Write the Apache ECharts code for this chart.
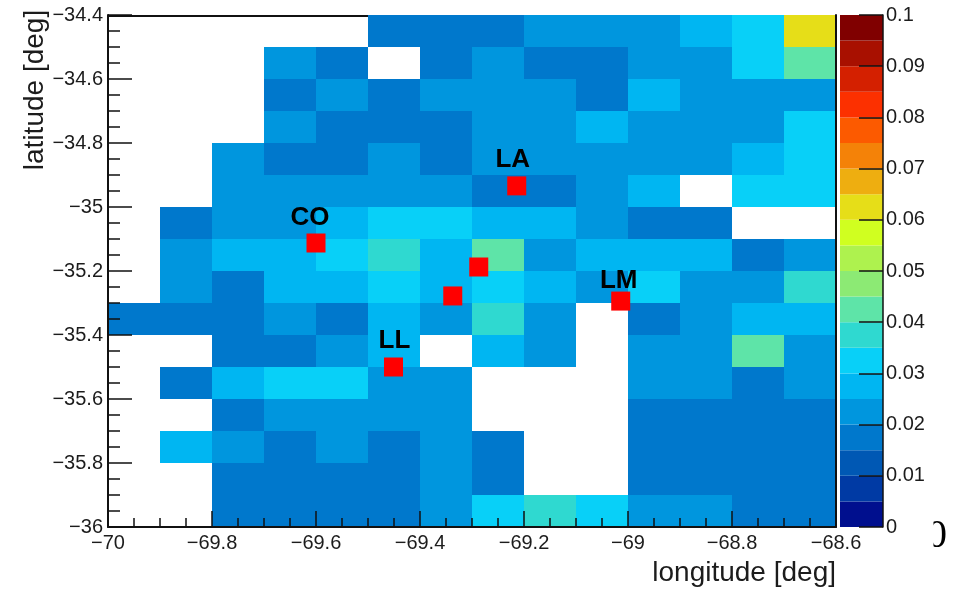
<!DOCTYPE html>
<html>
<head>
<meta charset="utf-8">
<style>html,body{margin:0;padding:0;background:#fff}#c{width:959px;height:590px;filter:blur(0.55px)}</style>
<script src="https://cdn.jsdelivr.net/npm/echarts@6/dist/echarts.min.js"></script>
</head>
<body>
<div id="c"></div>
<script>
// Bin lower-left longitudes (columns) and upper-edge latitudes (rows, top to bottom)
const lonEdges = [-70,-69.9,-69.8,-69.7,-69.6,-69.5,-69.4,-69.3,-69.2,-69.1,-69,-68.9,-68.8,-68.7];
const latEdges = [-34.4,-34.5,-34.6,-34.7,-34.8,-34.9,-35,-35.1,-35.2,-35.3,-35.4,-35.5,-35.6,-35.7,-35.8,-35.9];
const _ = null;
const row00 = [_,_,_,_,_,.0175,.0175,.0175,.0225,.0225,.0225,.0275,.0325,.0625];
const row01 = [_,_,_,.0225,.0175,_,.0175,.0225,.0175,.0175,.0225,.0225,.0325,.0425];
const row02 = [_,_,_,.0175,.0225,.0175,.0225,.0225,.0225,.0175,.0275,.0225,.0225,.0225];
const row03 = [_,_,_,.0225,.0175,.0175,.0175,.0225,.0225,.0275,.0225,.0225,.0225,.0325];
const row04 = [_,_,.0225,.0175,.0175,.0225,.0175,.0225,.0225,.0225,.0225,.0225,.0275,.0325];
const row05 = [_,_,.0225,.0225,.0225,.0225,.0225,.0175,.0175,.0225,.0275,_,.0325,.0325];
const row06 = [_,.0175,.0225,.0225,.0275,.0325,.0325,.0275,.0275,.0225,.0175,.0175,_,_];
const row07 = [_,.0225,.0275,.0275,.0325,.0375,.0275,.0425,.0225,.0275,.0275,.0275,.0175,.0225];
const row08 = [_,.0225,.0175,.0275,.0275,.0325,.0275,.0325,.0275,.0225,.0325,.0225,.0225,.0375];
const row09 = [.0175,.0175,.0175,.0225,.0175,.0275,.0225,.0375,.0225,_,.0175,.0225,.0275,.0275];
const row10 = [_,_,.0175,.0175,.0225,.0275,_,.0275,.0225,_,.0225,.0225,.0425,.0225];
const row11 = [_,.0175,.0275,.0325,.0325,.0225,.0225,_,_,_,.0225,.0225,.0175,.0225];
const row12 = [_,_,.0175,.0225,.0225,.0225,.0225,_,_,_,.0175,.0175,.0175,.0175];
const row13 = [_,.0275,.0225,.0175,.0225,.0175,.0225,.0175,_,_,.0175,.0175,.0175,.0175];
const row14 = [_,_,.0175,.0175,.0175,.0175,.0225,.0175,_,_,.0175,.0175,.0175,.0175];
const row15 = [_,_,.0175,.0175,.0175,.0175,.0225,.0325,.0375,.0325,.0225,.0225,.0175,.0175];
const rows = [row00,row01,row02,row03,row04,row05,row06,row07,row08,row09,row10,row11,row12,row13,row14,row15];

// Stations
const stationNames = ['CO','LA','','','LM','LL'];
const stationLons = [-69.6,-69.214,-69.287,-69.337,-69.014,-69.451];
const stationLats = [-35.1125,-34.934,-35.1875,-35.278,-35.294,-35.5];

// Palette steps of the colour bar
const levelStep = 0.005;
const levelColors = ['#000f8e','#003aa4','#0058b4','#0078cc','#0096de','#00b6f2','#08d0f8','#2fd9d0','#5ee4a8','#8cea74',
  '#aef24e','#d0ff20','#e6de18','#eeae10','#f48208','#fc5a00','#fc3000','#d42000','#a81000','#800000'];

const cellStep = 0.1;
const colorOf = v => levelColors[Math.min(levelColors.length - 1, Math.floor(v / levelStep))];
const cells = [];
rows.forEach((r, j) => r.forEach((v, i) => { if (v !== null) cells.push([lonEdges[i], latEdges[j], v]); }));
const barData = levelColors.map((c, i) => [i * levelStep]);
const minusFmt = v => String(v).replace('-', '\u2212');
const FONT = '"Liberation Sans", Arial, sans-serif';
const INK = '#1c1c1c';

const chart = echarts.init(document.getElementById('c'), null, {renderer: 'canvas'});
chart.setOption({
  animation: false,
  backgroundColor: '#fff',
  textStyle: {fontFamily: FONT},
  grid: [
    {left: 108, top: 15, width: 728, height: 512, outerBoundsMode: 'none', containLabel: false},
    {left: 840, top: 15, width: 43, height: 512, outerBoundsMode: 'none', containLabel: false}
  ],
  xAxis: [
    {type: 'value', gridIndex: 0, min: -70, max: -68.6, interval: 0.2, z: 5,
      name: 'longitude [deg]', nameLocation: 'end', nameGap: 0,
      nameTextStyle: {fontSize: 28, color: INK, align: 'right', verticalAlign: 'top', padding: [32, 0, 0, 0], fontFamily: FONT},
      axisLine: {show: true, onZero: false, lineStyle: {color: '#111', width: 2}},
      axisTick: {inside: true, length: 16, lineStyle: {color: '#111', width: 1.5}},
      minorTick: {show: true, splitNumber: 4, length: 9, lineStyle: {color: '#111', width: 1.5}},
      splitLine: {show: false},
      axisLabel: {formatter: minusFmt, fontSize: 20, color: INK, margin: 6, fontFamily: FONT, showMinLabel: true, showMaxLabel: true, hideOverlap: false}},
    {type: 'value', gridIndex: 0, position: 'top', offset: -1, min: -70, max: -68.6, interval: 0.2, z: 0,
      axisLine: {show: true, onZero: false, lineStyle: {color: '#111', width: 2}},
      axisTick: {show: false}, axisLabel: {show: false}, splitLine: {show: false}},
    {type: 'value', gridIndex: 1, min: 0, max: 1, show: false}
  ],
  yAxis: [
    {type: 'value', gridIndex: 0, min: -36, max: -34.4, interval: 0.2, z: 5,
      axisLine: {show: true, onZero: false, lineStyle: {color: '#111', width: 2}},
      axisTick: {inside: true, length: 24, lineStyle: {color: '#111', width: 1.5}},
      minorTick: {show: true, splitNumber: 4, length: 12, lineStyle: {color: '#111', width: 1.5}},
      splitLine: {show: false},
      axisLabel: {formatter: minusFmt, fontSize: 20, color: INK, margin: 5, fontFamily: FONT, showMinLabel: true, showMaxLabel: true, hideOverlap: false}},
    {type: 'value', gridIndex: 0, position: 'right', min: -36, max: -34.4, interval: 0.2, z: 5,
      axisLine: {show: true, onZero: false, lineStyle: {color: '#111', width: 2}},
      axisTick: {show: false}, axisLabel: {show: false}, splitLine: {show: false}},
    {type: 'value', gridIndex: 1, position: 'right', min: 0, max: 0.1, interval: 0.01, z: 5,
      axisLine: {show: true, onZero: false, lineStyle: {color: '#111', width: 1.5}},
      axisTick: {inside: true, length: 24, lineStyle: {color: '#111', width: 1.5}},
      splitLine: {show: false},
      axisLabel: {fontSize: 20, color: INK, margin: 3, fontFamily: FONT, showMinLabel: true, showMaxLabel: true, hideOverlap: false}}
  ],
  series: [
    {type: 'custom', name: 'map', xAxisIndex: 0, yAxisIndex: 0, z: 2, data: cells, silent: true, clip: true,
      encode: {x: 0, y: 1},
      renderItem: (params, api) => {
        const lon = api.value(0), lat = api.value(1);
        const a = api.coord([lon, lat]);
        const b = api.coord([lon + cellStep, lat - cellStep]);
        return {type: 'rect', shape: {x: a[0], y: a[1], width: b[0] - a[0], height: b[1] - a[1]},
          style: {fill: colorOf(api.value(2))}};
      }},
    {type: 'custom', name: 'palette', xAxisIndex: 2, yAxisIndex: 2, z: 2, data: barData, silent: true,
      encode: {y: 0},
      renderItem: (params, api) => {
        const low = api.value(0);
        const a = api.coord([0, low + levelStep]);
        const b = api.coord([1, low]);
        return {type: 'rect', shape: {x: a[0], y: a[1], width: b[0] - a[0], height: b[1] - a[1]},
          style: {fill: levelColors[params.dataIndex]}};
      }},
    {type: 'scatter', name: 'stations', xAxisIndex: 0, yAxisIndex: 0, z: 10, symbol: 'rect', symbolSize: 19,
      itemStyle: {color: '#ff0000', opacity: 1}, silent: true,
      data: stationNames.map((n, i) => {
        const offs = {CO: [-6, -3], LA: [-4, -4], LM: [-2, 2], LL: [1, -4]};
        return {name: n, value: [stationLons[i], stationLats[i]],
          label: {show: !!n, position: 'top', distance: 0, offset: offs[n] || [0, 0], formatter: n,
            fontSize: 26, fontWeight: 'bold', color: '#000', fontFamily: FONT}};
      })}
  ],
  graphic: [
    {type: 'text', z: 20, x: 35, y: 90, rotation: Math.PI / 2,
      style: {text: 'latitude [deg]', fontSize: 28, fontFamily: FONT, fill: INK, textAlign: 'center', textVerticalAlign: 'middle'}},
    {type: 'text', z: 20, left: 927, top: 516, style: {text: '0', fontSize: 40, fontFamily: '"Liberation Serif", serif', fill: '#000'}},
    {type: 'rect', z: 21, left: 915, top: 510, shape: {width: 18.5, height: 50}, style: {fill: '#fff'}}
  ]
});
</script>
</body>
</html>
